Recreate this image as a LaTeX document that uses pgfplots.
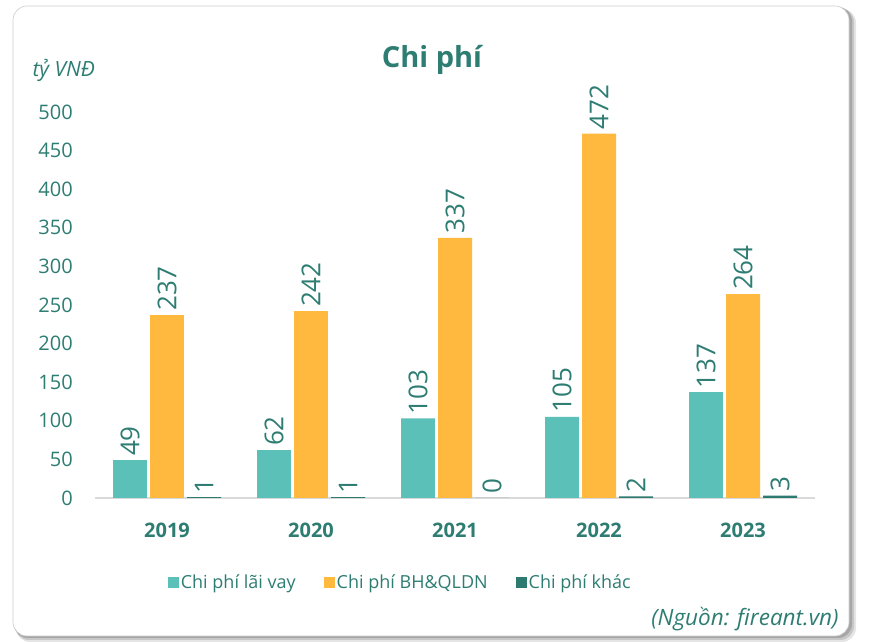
\documentclass[border=0pt]{standalone}
\usepackage{pgfplots}
\pgfplotsset{compat=1.18}
\usepackage{fontspec}
\setmainfont{Open Sans}
\definecolor{tealtext}{RGB}{46,125,115}
\definecolor{tealbar}{RGB}{91,192,184}
\definecolor{orangebar}{RGB}{255,185,63}
\definecolor{darkbar}{RGB}{45,122,112}
\newcommand{\fs}[1]{\fontsize{#1bp}{#1bp}\selectfont}
\begin{document}
\begin{tikzpicture}[x=1bp,y=1bp]
\useasboundingbox (0,0) rectangle (871,642);
% shadow
\fill[black!10,rounded corners=14bp] (16,0) rectangle (856,633);
\fill[black!22,rounded corners=14bp] (15,2) rectangle (854,634);
\fill[black!35,rounded corners=14bp] (14,4) rectangle (852,635);
\fill[white,rounded corners=14bp] (13,6) rectangle (849,636);
\draw[black!20,line width=0.6bp,rounded corners=14bp] (13,6) rectangle (849,636);
% title etc
\node[font=\fs{29}\bfseries,text=tealtext] at (432,582) {Chi phí};
\node[font=\fs{21}\itshape,text=tealtext,anchor=west] at (29,572) {tỷ VNĐ};
\node[font=\fs{22.5}\itshape,text=tealtext,anchor=east] at (842,23) {(Nguồn: fireant.vn)};
\begin{axis}[
  at={(95bp,144bp)}, anchor=south west,
  scale only axis, width=720bp, height=386bp,
  xmin=-0.5, xmax=4.5, ymin=0, ymax=500,
  clip=false,
  /pgf/number format/assume math mode=true,
  axis lines=left,
  axis line style={-},
  y axis line style={draw=none},
  x axis line style={draw=black!15,line width=1.5bp},
  major tick length=0pt,
  tick style={draw=none},
  ytick={0,50,...,500},
  xtick={0,1,2,3,4},
  xticklabels={2019,2020,2021,2022,2023},
  yticklabel style={font=\fs{20},text=tealtext,inner sep=0pt,anchor=east,xshift=-22bp},
  xticklabel style={font=\fs{20}\bfseries,text=tealtext,inner sep=0pt,anchor=center,yshift=-32bp},
  ybar, bar width=0.236,
  nodes near coords,
  every node near coord/.append style={rotate=90,anchor=west,font=\fs{26},text=tealtext,inner sep=0pt,xshift=4bp},
  legend columns=3,
  legend style={draw=none,at={(0.424,-0.218)},anchor=center,font=\fs{18},text=tealtext,
    /tikz/every even column/.append style={column sep=26bp},inner sep=0pt},
  legend image code/.code={\fill[#1] (0bp,-5.5bp) rectangle (11bp,5.5bp);},
]
\addplot[fill=tealbar,draw=none,bar shift=-0.257] coordinates {(0,49) (1,62) (2,103) (3,105) (4,137)};
\addplot[fill=orangebar,draw=none,bar shift=0] coordinates {(0,237) (1,242) (2,337) (3,472) (4,264)};
\addplot[fill=darkbar,draw=none,bar shift=0.257] coordinates {(0,1) (1,1) (2,0) (3,2) (4,3)};
\legend{Chi phí lãi vay,Chi phí BH\&QLDN,Chi phí khác}
\end{axis}
\end{tikzpicture}
\end{document}
